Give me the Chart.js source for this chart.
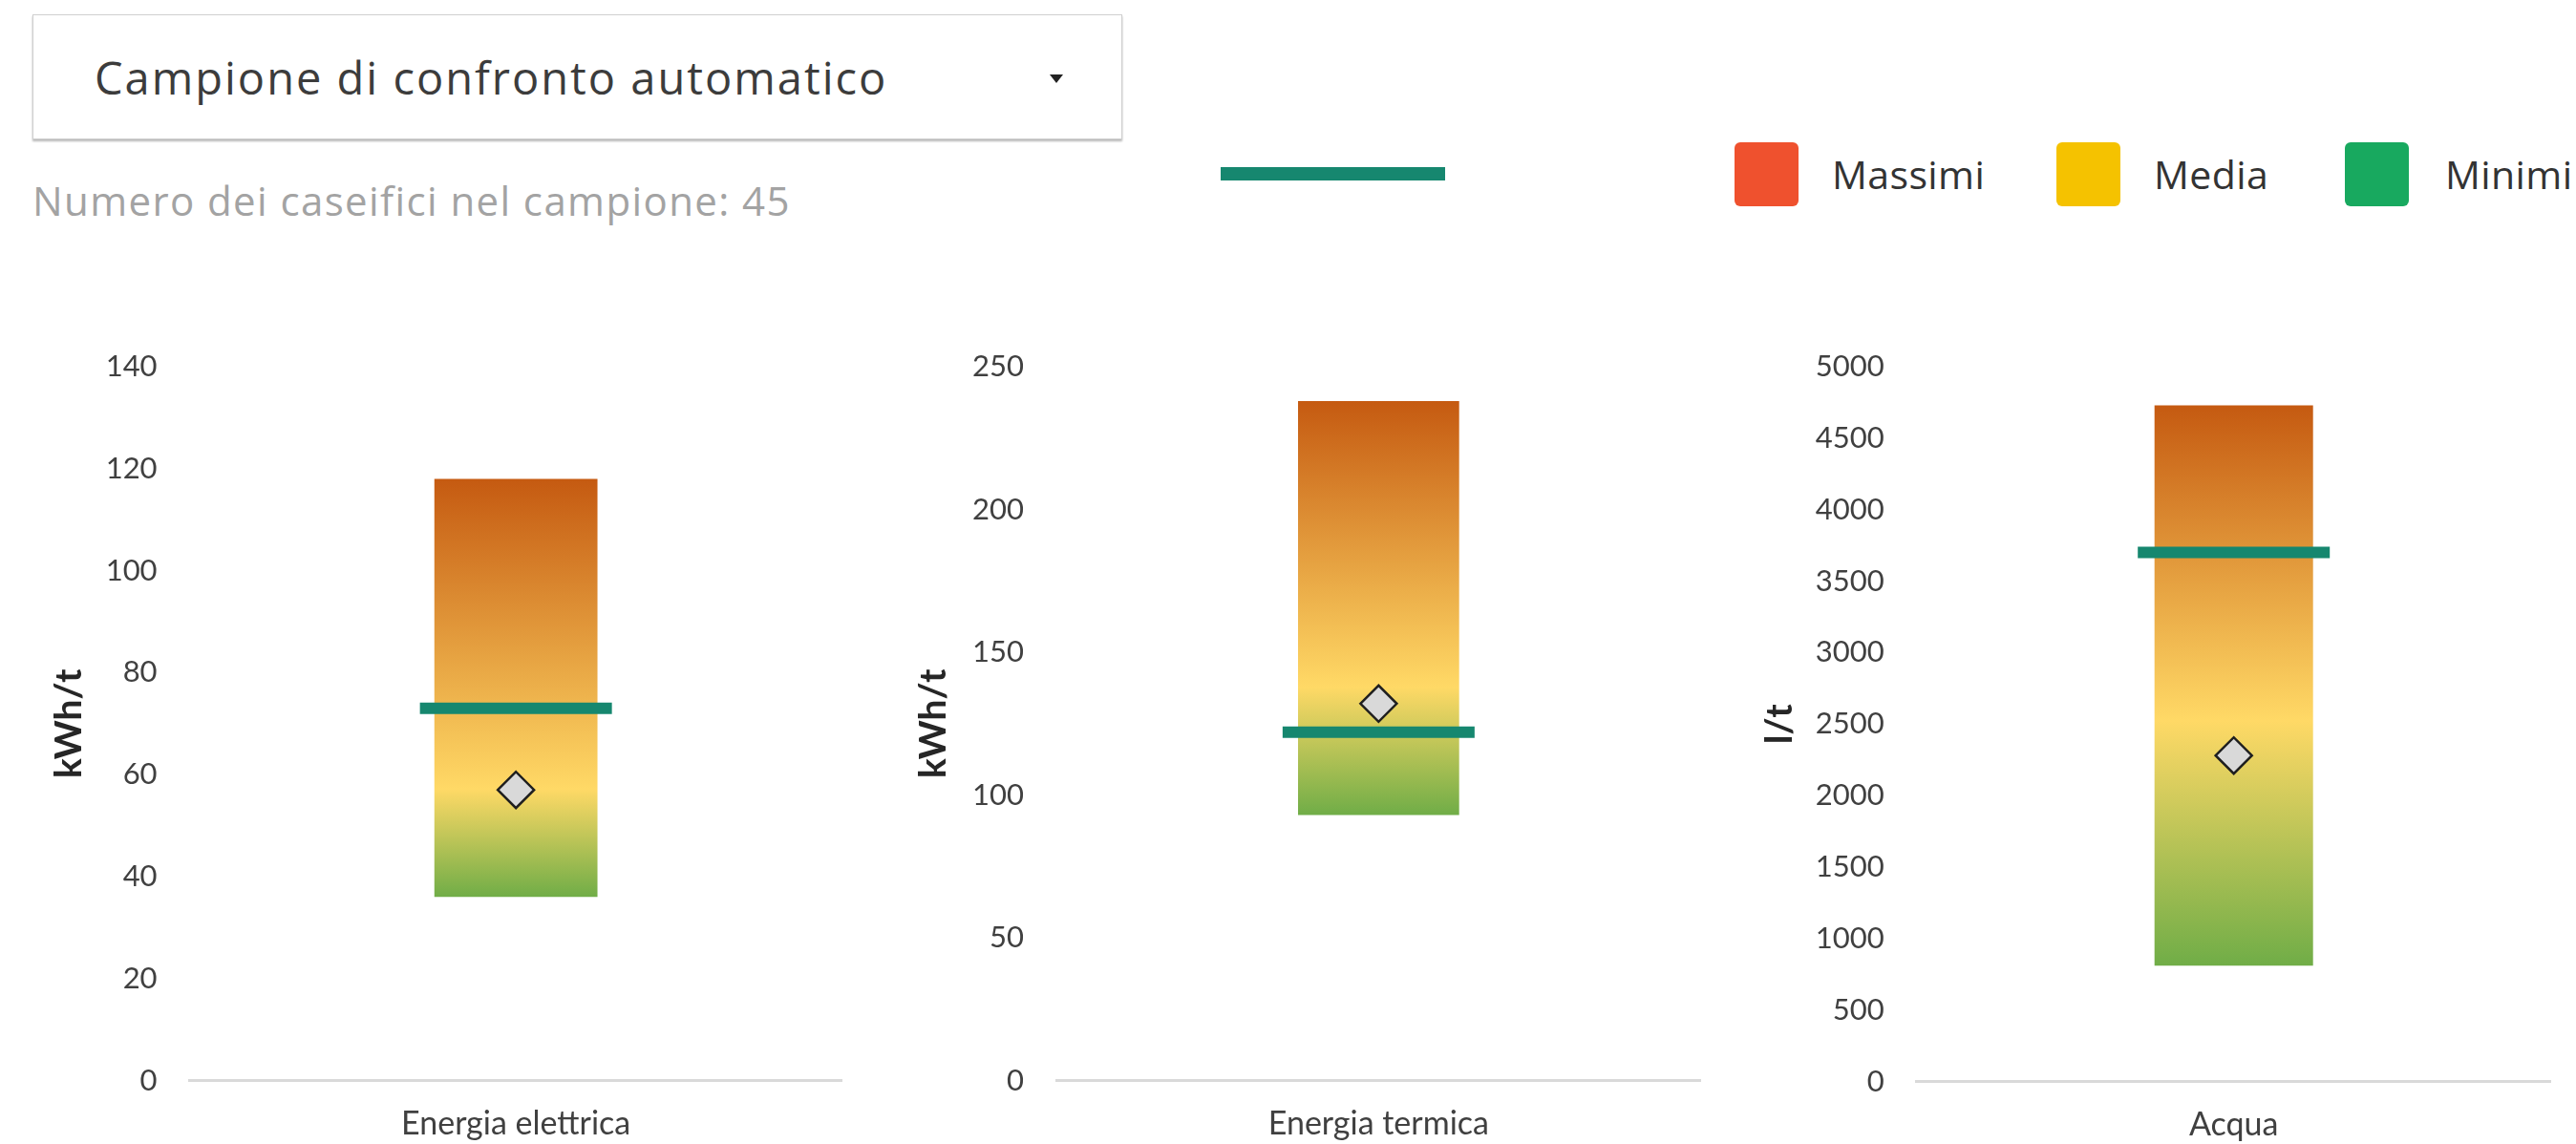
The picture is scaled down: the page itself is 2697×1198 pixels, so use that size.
<!DOCTYPE html>
<html lang="it">
<head>
<meta charset="utf-8">
<title>Confronto consumi caseifici</title>
<script src="https://cdn.jsdelivr.net/npm/chart.js@4.4.1/dist/chart.umd.min.js"></script>
<style>
  html, body { margin: 0; padding: 0; background: #fff; }
  body { width: 2697px; height: 1198px; position: relative; overflow: hidden; font-family: "Open Sans", Lato, sans-serif; }
  .abs { position: absolute; white-space: nowrap; line-height: 1; }
  .select { position: absolute; left: 34px; top: 15px; width: 1139px; height: 129px; border: 1px solid #cfcfcf; box-shadow: 0 2px 2px rgba(0,0,0,0.28); background: #fff; }
  .select-text { left: 99px; top: 58px; font-size: 47px; font-weight: 400; letter-spacing: 2px; color: #3c3c3c; }
  .caret { position: absolute; left: 1099px; top: 78px; width: 0; height: 0; border-left: 7px solid transparent; border-right: 7px solid transparent; border-top: 9px solid #222; }
  .count { left: 34px; top: 189px; font-size: 42px; font-weight: 400; letter-spacing: 1.4px; color: #a3a3a3; }
  .own-line { position: absolute; left: 1278px; top: 175px; width: 235px; height: 14px; background: #16876f; }
  .swatch { position: absolute; top: 149px; width: 67px; height: 67px; border-radius: 6px; }
  .legend-text { top: 162px; font-size: 41px; font-weight: 400; letter-spacing: 0.4px; color: #333; }
  .panel { position: absolute; top: 300px; }
</style>
</head>
<body>
  <div class="select"></div>
  <div class="abs select-text">Campione di confronto automatico</div>
  <div class="caret"></div>
  <div class="abs count">Numero dei caseifici nel campione: 45</div>

  <div class="own-line"></div>
  <div class="swatch" style="left:1816px;background:#ef512e"></div>
  <div class="abs legend-text" style="left:1918px">Massimi</div>
  <div class="swatch" style="left:2153px;background:#f5c200"></div>
  <div class="abs legend-text" style="left:2255px">Media</div>
  <div class="swatch" style="left:2455px;background:#18a95f"></div>
  <div class="abs legend-text" style="left:2560px">Minimi</div>

  <canvas id="c0" class="panel"></canvas>
  <canvas id="c1" class="panel"></canvas>
  <canvas id="c2" class="panel"></canvas>

<script>
// Indicators compared against the sample
const categories = ['Energia elettrica', 'Energia termica', 'Acqua'];
const unitLabels = ['kWh/t', 'kWh/t', 'l/t'];
const massimi   = [118, 238, 4730];
const minimi    = [36, 93, 810];
const media     = [57, 132, 2280];
const caseificio = [73, 122, 3700];
const axisMax   = [140, 250, 5000];
const axisStep  = [20, 50, 500];

// Panel geometry (page pixels) and the position of the yellow band in each bar
const CANVAS_TOP = 300, CANVAS_H = 898, AREA_TOP = 384;
const panels = [
  { id: 'c0', left: 0,    width: 895, titleX: 72,    areaLeft: 198.6,  areaRight: 881.7,  areaBottom: 1131.5, yellowAt: 0.742 },
  { id: 'c1', left: 895,  width: 900, titleX: 977.5, areaLeft: 1106,   areaRight: 1780.7, areaBottom: 1131.5, yellowAt: 0.691 },
  { id: 'c2', left: 1795, width: 902, titleX: 1863,  areaLeft: 2006.7, areaRight: 2670.7, areaBottom: 1132.5, yellowAt: 0.563 }
];

const TEAL = '#16876f';
const TEXT = '#404040';
const TICK_FONT = { family: 'Lato', size: 31 };
const CAT_FONT = { family: 'Lato', size: 34 };
const TITLE_FONT = { family: 'Lato', size: 39, weight: 'bold' };
const TITLE_LH = TITLE_FONT.size * 1.2;

function barGradient(ctx, i, stop) {
  const chart = ctx.chart;
  if (!chart.chartArea) return '#ffd966';
  const y = chart.scales.y;
  const top = y.getPixelForValue(massimi[i]);
  const bottom = y.getPixelForValue(minimi[i]);
  const g = chart.ctx.createLinearGradient(0, top, 0, bottom);
  g.addColorStop(0, '#c55a11');
  g.addColorStop(stop, '#ffd966');
  g.addColorStop(1, '#70ad47');
  return g;
}

panels.forEach((p, i) => {
  const canvas = document.getElementById(p.id);
  canvas.width = p.width;
  canvas.height = CANVAS_H;
  canvas.style.left = p.left + 'px';
  canvas.style.width = p.width + 'px';
  canvas.style.height = CANVAS_H + 'px';

  new Chart(canvas, {
    data: {
      labels: [categories[i]],
      datasets: [
        {
          type: 'bar',
          label: 'Intervallo del campione',
          data: [[minimi[i], massimi[i]]],
          backgroundColor: (ctx) => barGradient(ctx, i, p.yellowAt),
          borderWidth: 0,
          borderSkipped: false,
          barPercentage: 1,
          categoryPercentage: 0.25,
          order: 3
        },
        {
          type: 'line',
          label: 'Il tuo caseificio',
          data: [caseificio[i]],
          showLine: false,
          pointStyle: 'line',
          pointRadius: 100.5,
          pointHoverRadius: 100.5,
          pointBorderWidth: 12,
          pointHoverBorderWidth: 12,
          pointBorderColor: TEAL,
          pointBackgroundColor: TEAL,
          clip: false,
          order: 2
        },
        {
          type: 'line',
          label: 'Media',
          data: [media[i]],
          showLine: false,
          pointStyle: 'rectRot',
          pointRadius: 19,
          pointHoverRadius: 19,
          pointBorderWidth: 2.5,
          pointBorderColor: '#1f1f1f',
          pointBackgroundColor: '#d9d9d9',
          clip: false,
          order: 1
        }
      ]
    },
    options: {
      responsive: false,
      animation: false,
      devicePixelRatio: 1,
      events: [],
      layout: {
        autoPadding: false,
        padding: {
          top: AREA_TOP - CANVAS_TOP,
          bottom: 0,
          left: p.titleX - p.left - TITLE_LH / 2,
          right: p.left + p.width - p.areaRight
        }
      },
      plugins: { legend: { display: false }, tooltip: { enabled: false } },
      scales: {
        x: {
          type: 'category',
          offset: true,
          grid: { display: false, drawTicks: false },
          border: { display: true, color: '#d9d9d9', width: 3 },
          ticks: { font: CAT_FONT, color: TEXT, padding: 25, maxRotation: 0 },
          afterFit: (s) => { s.height = CANVAS_TOP + CANVAS_H - p.areaBottom; }
        },
        y: {
          min: 0,
          max: axisMax[i],
          grid: { display: false, drawTicks: false },
          border: { display: false },
          ticks: { stepSize: axisStep[i], font: TICK_FONT, color: TEXT, padding: 34, callback: (v) => String(v) },
          title: { display: true, text: unitLabels[i], font: TITLE_FONT, color: '#262626', padding: 0 },
          afterFit: (s) => { s.width = p.areaLeft - p.titleX + TITLE_LH / 2; }
        }
      }
    }
  });
});
</script>
</body>
</html>
